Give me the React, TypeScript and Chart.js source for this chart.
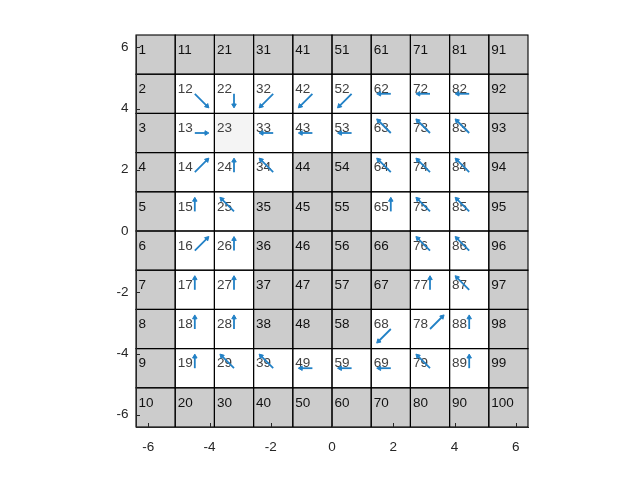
import React, { useEffect, useRef } from 'react';
import { Chart, registerables } from 'chart.js';

Chart.register(...registerables);

// ---- data ----
const GRID_MIN = -6.4;
const CELL_SIZE = 1.28;
const GRID_N = 10;
const xTicks = [-6, -4, -2, 0, 2, 4, 6];
const yTicks = [-6, -4, -2, 0, 2, 4, 6];

const wallCells = [
  1, 2, 3, 4, 5, 6, 7, 8, 9, 10, 11, 20, 21, 30, 31, 35, 36, 37, 38, 40, 41, 44, 45, 46, 47, 48,
  50, 51, 54, 55, 56, 57, 58, 60, 61, 66, 67, 70, 71, 80, 81, 90, 91, 92, 93, 94, 95, 96, 97, 98,
  99, 100,
];
const goalCells = [23];

const policyCells = [
  12, 13, 14, 15, 16, 17, 18, 19,
  22, 24, 25, 26, 27, 28, 29,
  32, 33, 34, 39,
  42, 43, 49,
  52, 53, 59,
  62, 63, 64, 65, 68, 69,
  72, 73, 74, 75, 76, 77, 78, 79,
  82, 83, 84, 85, 86, 87, 88, 89,
];
const policyU = [
  1, 1, 1, 0, 1, 0, 0, 0,
  0, 0, -1, 0, 0, 0, -1,
  -1, -1, -1, -1,
  -1, -1, -1,
  -1, -1, -1,
  -1, -1, -1, 0, -1, -1,
  -1, -1, -1, -1, -1, 0, 1, -1,
  -1, -1, -1, -1, -1, -1, 0, 0,
];
const policyV = [
  -1, 0, 1, 1, 1, 1, 1, 1,
  -1, 1, 1, 1, 1, 1, 1,
  -1, 0, 1, 1,
  -1, 0, 0,
  -1, 0, 0,
  0, 1, 1, 1, -1, 0,
  0, 1, 1, 1, 1, 1, 1, 1,
  0, 1, 1, 1, 1, 1, 1, 1,
];
const ARROW_SCALE = 0.46;
const HEAD_BACK = 0.085;

// ---- helpers ----
const cellCol = (n: number) => Math.floor((n - 1) / GRID_N);
const cellRow = (n: number) => (n - 1) % GRID_N;
const cellLeft = (n: number) => GRID_MIN + CELL_SIZE * cellCol(n);
const cellTop = (n: number) => -GRID_MIN - CELL_SIZE * cellRow(n);
const cellCx = (n: number) => cellLeft(n) + CELL_SIZE / 2;
const cellCy = (n: number) => cellTop(n) - CELL_SIZE / 2;

const BLUE = '#2281c6';
const FONT = '"Liberation Sans", Arial, Helvetica, sans-serif';

export default function App() {
  const ref = useRef<HTMLCanvasElement>(null);

  useEffect(() => {
    if (!ref.current) return;

    const shaftSets: any[] = policyCells.map((n, i) => {
      const u = policyU[i];
      const v = policyV[i];
      const len = Math.hypot(u, v);
      const x0 = cellCx(n);
      const y0 = cellCy(n);
      const x1 = x0 + u * ARROW_SCALE - (u / len) * HEAD_BACK;
      const y1 = y0 + v * ARROW_SCALE - (v / len) * HEAD_BACK;
      return {
        data: [
          { x: x0, y: y0 },
          { x: x1, y: y1 },
        ],
        showLine: true,
        borderColor: BLUE,
        borderWidth: 1.8,
        pointRadius: 0,
        pointHoverRadius: 0,
        fill: false,
      };
    });

    const headData = policyCells.map((n, i) => {
      const u = policyU[i];
      const v = policyV[i];
      const len = Math.hypot(u, v);
      return {
        x: cellCx(n) + u * ARROW_SCALE - (u / len) * HEAD_BACK,
        y: cellCy(n) + v * ARROW_SCALE - (v / len) * HEAD_BACK,
      };
    });
    const headRot = policyCells.map((_, i) => (Math.atan2(policyU[i], policyV[i]) * 180) / Math.PI);

    const headSet: any = {
      data: headData,
      showLine: false,
      pointStyle: 'triangle',
      pointRadius: 2.6,
      pointHoverRadius: 2.6,
      pointRotation: headRot,
      backgroundColor: BLUE,
      borderColor: BLUE,
      borderWidth: 1,
    };

    const gridPlugin = {
      id: 'gridCells',
      beforeDraw(chart: any) {
        const { ctx, scales } = chart;
        const xs = scales.x;
        const ys = scales.y;
        ctx.save();
        ctx.fillStyle = '#ffffff';
        ctx.fillRect(0, 0, chart.width, chart.height);
        for (let n = 1; n <= GRID_N * GRID_N; n++) {
          const l = xs.getPixelForValue(cellLeft(n));
          const r = xs.getPixelForValue(cellLeft(n) + CELL_SIZE);
          const t = ys.getPixelForValue(cellTop(n));
          const b = ys.getPixelForValue(cellTop(n) - CELL_SIZE);
          let fill = '#ffffff';
          if (wallCells.includes(n)) fill = '#cccccc';
          else if (goalCells.includes(n)) fill = '#f4f4f4';
          ctx.fillStyle = fill;
          ctx.fillRect(l, t, r - l, b - t);
        }
        ctx.strokeStyle = '#000000';
        ctx.lineWidth = 1.1;
        for (let n = 1; n <= GRID_N * GRID_N; n++) {
          const l = xs.getPixelForValue(cellLeft(n));
          const r = xs.getPixelForValue(cellLeft(n) + CELL_SIZE);
          const t = ys.getPixelForValue(cellTop(n));
          const b = ys.getPixelForValue(cellTop(n) - CELL_SIZE);
          ctx.strokeRect(l, t, r - l, b - t);
        }
        ctx.font = `13.5px ${FONT}`;
        ctx.textAlign = 'left';
        ctx.textBaseline = 'alphabetic';
        for (let n = 1; n <= GRID_N * GRID_N; n++) {
          const l = xs.getPixelForValue(cellLeft(n));
          const t = ys.getPixelForValue(cellTop(n));
          ctx.fillStyle = wallCells.includes(n) ? '#111111' : '#404040';
          ctx.fillText(String(n), l + 2.5, t + 18.7);
        }
        ctx.restore();
      },
      afterDraw(chart: any) {
        const { ctx, scales, chartArea } = chart;
        ctx.save();
        ctx.strokeStyle = '#262626';
        ctx.lineWidth = 1;
        ctx.beginPath();
        for (const v of xTicks) {
          const px = Math.round(scales.x.getPixelForValue(v)) + 0.5;
          ctx.moveTo(px, chartArea.bottom);
          ctx.lineTo(px, chartArea.bottom - 4);
        }
        for (const v of yTicks) {
          const py = Math.round(scales.y.getPixelForValue(v)) + 0.5;
          ctx.moveTo(chartArea.left, py);
          ctx.lineTo(chartArea.left + 4, py);
        }
        ctx.stroke();
        ctx.restore();
      },
    };

    const chart = new Chart(ref.current, {
      type: 'scatter',
      data: { datasets: [...shaftSets, headSet] },
      options: {
        animation: false,
        responsive: false,
        events: [],
        layout: { padding: { left: 0, top: 35, right: 114, bottom: 0 } },
        plugins: {
          legend: { display: false },
          tooltip: { enabled: false },
          title: { display: false },
        },
        scales: {
          x: {
            type: 'linear',
            min: GRID_MIN,
            max: -GRID_MIN,
            afterBuildTicks: (s: any) => {
              s.ticks = xTicks.map((v) => ({ value: v }));
            },
            afterFit: (s: any) => {
              s.height = 54;
            },
            grid: { display: false, drawTicks: false },
            border: { display: true, color: '#262626', width: 1 },
            ticks: {
              color: '#262626',
              font: { family: FONT, size: 13.5 },
              padding: 12.5,
              maxRotation: 0,
              autoSkip: false,
            },
          },
          y: {
            type: 'linear',
            min: GRID_MIN,
            max: -GRID_MIN,
            afterBuildTicks: (s: any) => {
              s.ticks = yTicks.map((v) => ({ value: v }));
            },
            afterFit: (s: any) => {
              s.width = 136;
            },
            grid: { display: false, drawTicks: false },
            border: { display: true, color: '#262626', width: 1 },
            ticks: {
              color: '#262626',
              font: { family: FONT, size: 13.5 },
              padding: 7.5,
              autoSkip: false,
            },
          },
        },
      },
      plugins: [gridPlugin],
    } as any);

    return () => chart.destroy();
  }, []);

  return (
    <div style={{ position: 'absolute', left: 0, top: 0, width: 642, height: 481, background: '#fff' }}>
      <canvas ref={ref} width={642} height={481} />
    </div>
  );
}
